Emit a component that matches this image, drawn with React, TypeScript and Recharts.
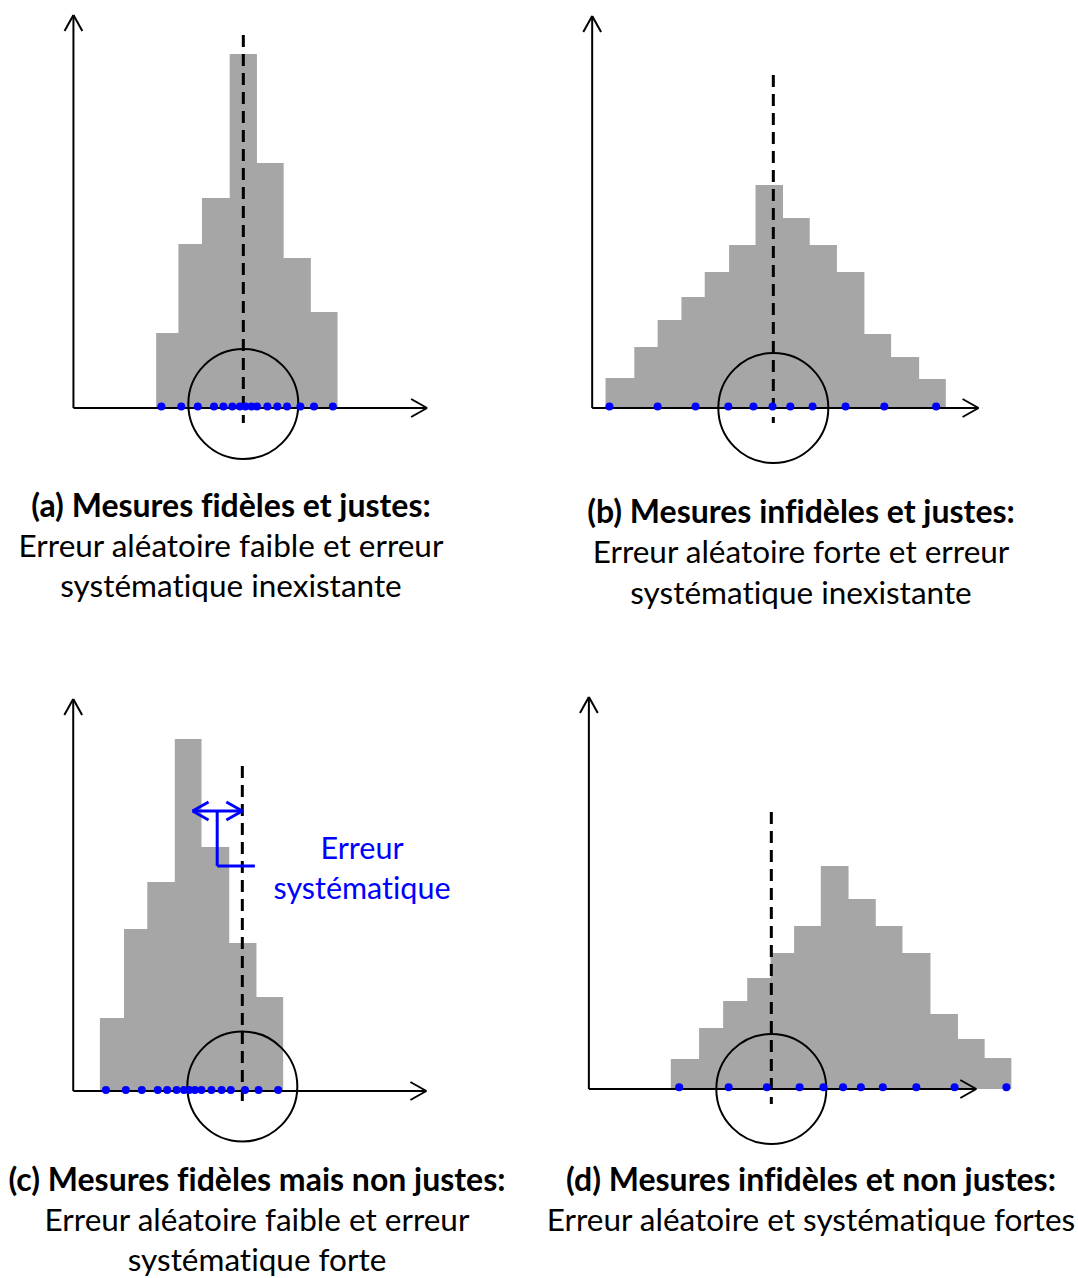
import { ComposedChart, Area, Scatter, XAxis, YAxis, ReferenceLine, ReferenceDot } from "recharts";

// x in bin widths measured from the true value, y in count units
const edgesA = [-3.33, -2.48, -1.58, -0.52, 0.52, 1.54, 2.58, 3.6];
const countsA = [7.5, 16.4, 21.0, 35.4, 24.5, 15.0, 9.6];
const pointsA = [-3.13, -2.37, -1.74, -1.12, -0.76, -0.42, -0.13, 0.08, 0.31, 0.52, 0.92, 1.3, 1.67, 2.18, 2.7, 3.42];

const edgesB = [-6.41, -5.31, -4.42, -3.51, -2.62, -1.69, -0.68, 0.37, 1.39, 2.43, 3.48, 4.5, 5.57, 6.59];
const countsB = [3.0, 6.1, 8.8, 11.1, 13.6, 16.3, 22.3, 19.0, 16.3, 13.6, 7.4, 5.1, 2.9];
const pointsB = [-6.26, -4.42, -2.97, -1.72, -0.76, -0.03, 0.65, 1.5, 2.76, 4.24, 6.22];

const edgesC = [-5.44, -4.52, -3.63, -2.58, -1.56, -0.5, 0.54, 1.56];
const countsC = [7.3, 16.2, 20.9, 35.2, 24.4, 14.8, 9.4];
const pointsC = [-5.21, -4.45, -3.84, -3.23, -2.87, -2.51, -2.23, -2.03, -1.81, -1.56, -1.18, -0.79, -0.44, 0.1, 0.62, 1.37];

const edgesD = [-3.84, -2.76, -1.84, -0.92, -0.03, 0.87, 1.89, 2.95, 3.99, 5.01, 6.08, 7.13, 8.15, 9.17];
const countsD = [3.0, 6.1, 8.8, 11.1, 13.6, 16.3, 22.3, 19.0, 16.3, 13.6, 7.5, 5.0, 3.1];
const pointsD = [-3.52, -1.63, -0.17, 1.08, 1.99, 2.74, 3.42, 4.26, 5.54, 7.0, 8.98];

const captionA = ["(a) Mesures fidèles et justes:", "Erreur aléatoire faible et erreur", "systématique inexistante"];
const captionB = ["(b) Mesures infidèles et justes:", "Erreur aléatoire forte et erreur", "systématique inexistante"];
const captionC = ["(c) Mesures fidèles mais non justes:", "Erreur aléatoire faible et erreur", "systématique forte"];
const captionD = ["(d) Mesures infidèles et non justes:", "Erreur aléatoire et systématique fortes"];
const biasLabel = ["Erreur", "systématique"];

const X_DOMAIN: [number, number] = [-7.5, 9.5];
const Y_DOMAIN: [number, number] = [-7, 40];
const W = 445;
const H = 470;
const GREY = "#a6a6a6";
const BLUE = "#0000ff";
const FONT = "Lato, 'Open Sans', sans-serif";

const panels = [
  { key: "a", left: 47, top: 8, edges: edgesA, counts: countsA, points: pointsA, dotY: 0.15, dashTop: 37.3, circleY: 0.4, yAxisX: -6.49, tipX: 7.02, axisTop: 39.3 },
  { key: "b", left: 577, top: 8, edges: edgesB, counts: countsB, points: pointsB, dotY: 0.15, dashTop: 33.3, circleY: 0, yAxisX: -6.92, tipX: 7.84, axisTop: 39.2 },
  { key: "c", left: 46, top: 691, edges: edgesC, counts: countsC, points: pointsC, dotY: 0.1, dashTop: 32.5, circleY: 0.45, yAxisX: -6.46, tipX: 7.03, axisTop: 39.2 },
  { key: "d", left: 575, top: 689, edges: edgesD, counts: countsD, points: pointsD, dotY: 0.17, dashTop: 27.7, circleY: 0, yAxisX: -6.97, tipX: 7.83, axisTop: 39.2 },
];

const captions = [
  { lines: captionA, x: 231, y: [505, 546, 586] },
  { lines: captionB, x: 801, y: [511, 552, 593] },
  { lines: captionC, x: 257, y: [1179, 1220, 1260] },
  { lines: captionD, x: 811, y: [1179, 1220] },
];

type Pt = { x: number; y: number };
const seg = (a: Pt, b: Pt, color: string, w: number, k: string) => (
  <ReferenceLine key={k} segment={[a, b]} stroke={color} strokeWidth={w} ifOverflow="visible" />
);

// arrow heads: 16px back, 9px aside (x: 26.2 px/unit, y: 10 px/unit)
const HX = 0.61;
const HY = 0.9;
const VX = 0.34;
const VY = 1.6;

const Panel = ({ p }: { p: (typeof panels)[number] }) => {
  const histo = p.edges.map((x, i) => ({ x, h: p.counts[Math.min(i, p.counts.length - 1)] }));
  const dots = p.points.map((x) => ({ x, y: p.dotY }));
  return (
    <div style={{ position: "absolute", left: p.left, top: p.top }}>
      <ComposedChart width={W} height={H} data={histo} margin={{ top: 0, right: 0, bottom: 0, left: 0 }}>
        <XAxis type="number" dataKey="x" domain={X_DOMAIN} hide allowDataOverflow />
        <YAxis type="number" domain={Y_DOMAIN} hide allowDataOverflow />
        <Area type="stepAfter" dataKey="h" fill={GREY} fillOpacity={1} stroke="none" baseValue={0} isAnimationActive={false} />
        {seg({ x: p.yAxisX, y: 0 }, { x: p.tipX, y: 0 }, "#000", 2, "xaxis")}
        {seg({ x: p.tipX - HX, y: HY }, { x: p.tipX, y: 0 }, "#000", 2, "xh1")}
        {seg({ x: p.tipX - HX, y: -HY }, { x: p.tipX, y: 0 }, "#000", 2, "xh2")}
        {seg({ x: p.yAxisX, y: 0 }, { x: p.yAxisX, y: p.axisTop }, "#000", 2, "yaxis")}
        {seg({ x: p.yAxisX - VX, y: p.axisTop - VY }, { x: p.yAxisX, y: p.axisTop }, "#000", 2, "yh1")}
        {seg({ x: p.yAxisX + VX, y: p.axisTop - VY }, { x: p.yAxisX, y: p.axisTop }, "#000", 2, "yh2")}
        <ReferenceLine
          segment={[{ x: 0, y: p.dashTop }, { x: 0, y: -1.5 }]}
          stroke="#000"
          strokeWidth={3}
          strokeDasharray="12 7"
          ifOverflow="visible"
        />
        <ReferenceDot x={0} y={p.circleY} r={55} fill="none" stroke="#000" strokeWidth={2} ifOverflow="visible" />
        {p.key === "c" && [
          seg({ x: -1.9, y: 28 }, { x: 0, y: 28 }, BLUE, 3, "b1"),
          seg({ x: -1.9 + HX, y: 28 + HY }, { x: -1.9, y: 28 }, BLUE, 3, "b2"),
          seg({ x: -1.9 + HX, y: 28 - HY }, { x: -1.9, y: 28 }, BLUE, 3, "b3"),
          seg({ x: -HX, y: 28 + HY }, { x: 0, y: 28 }, BLUE, 3, "b4"),
          seg({ x: -HX, y: 28 - HY }, { x: 0, y: 28 }, BLUE, 3, "b5"),
          seg({ x: -0.96, y: 28 }, { x: -0.96, y: 22.5 }, BLUE, 3, "b6"),
          seg({ x: -0.96, y: 22.5 }, { x: 0.48, y: 22.5 }, BLUE, 3, "b7"),
        ]}
        <Scatter
          data={dots}
          dataKey="y"
          isAnimationActive={false}
          shape={(s: any) => <circle cx={s.cx} cy={s.cy} r={4} fill={BLUE} />}
        />
      </ComposedChart>
    </div>
  );
};

const textStyle = (x: number, y: number, bold: boolean, color = "#000", size?: number): React.CSSProperties => ({
  position: "absolute",
  left: x,
  top: y,
  transform: "translate(-50%, -50%)",
  whiteSpace: "nowrap",
  lineHeight: 1,
  fontFamily: FONT,
  fontSize: size ?? (bold ? 32 : 31.5),
  fontWeight: bold ? 700 : 400,
  fontVariantLigatures: "none",
  color,
});

export default function App() {
  return (
    <div style={{ position: "absolute", left: 0, top: 0, width: 1078, height: 1278, background: "#fff", overflow: "hidden" }}>
      {panels.map((p) => (
        <Panel key={p.key} p={p} />
      ))}
      {captions.map((c, ci) =>
        c.lines.map((line, li) => (
          <div key={`${ci}-${li}`} style={textStyle(c.x, c.y[li], li === 0)}>
            {line}
          </div>
        ))
      )}
      <div style={textStyle(362, 847, false, BLUE, 30.5)}>{biasLabel[0]}</div>
      <div style={textStyle(362, 887, false, BLUE, 30.5)}>{biasLabel[1]}</div>
    </div>
  );
}
